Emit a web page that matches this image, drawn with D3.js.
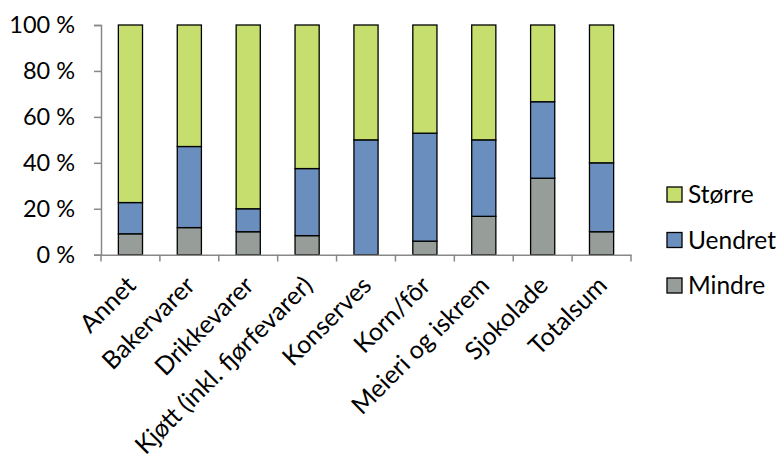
<!DOCTYPE html>
<html><head><meta charset="utf-8">
<script src="https://cdn.jsdelivr.net/npm/d3@7"></script>
<style>body{margin:0;background:#fff}svg{display:block}text{font-family:Lato,"Open Sans",sans-serif;fill:#000}</style>
</head><body>
<script>
const categories = ["Annet","Bakervarer","Drikkevarer","Kjøtt (inkl. fjørfevarer)","Konserves","Korn/fôr","Meieri og iskrem","Sjokolade","Totalsum"];
const mindre  = [9.1, 11.8, 10, 8.3, 0, 5.9, 16.7, 33.3, 10];
const uendret = [13.6, 35.3, 10, 29.2, 50, 47.0, 33.3, 33.3, 30];
const storre  = [77.3, 52.9, 80, 62.5, 50, 47.1, 50, 33.4, 60];
const seriesNames = ["Mindre","Uendret","Større"];
const colors = ["#979E99","#6A8FBF","#C6DE6E"];
const yTicks = [0,20,40,60,80,100];

const W=782,H=458;
const svg=d3.select("body").append("svg").attr("width",W).attr("height",H);
const x=d3.scaleBand().domain(categories).range([101,631]).padding(0);
const y=d3.scaleLinear().domain([0,100]).range([254.7,25]);
const data=categories.map((c,i)=>({cat:c,Mindre:mindre[i],Uendret:uendret[i],"Større":storre[i]}));
const stack=d3.stack().keys(seriesNames)(data);

// y axis
const ya=svg.append("g").attr("transform","translate(101,0)").call(d3.axisLeft(y).tickValues(yTicks).tickSize(7).tickFormat(d=>d+" %"));
ya.select(".domain").attr("stroke","#888").attr("stroke-width",1.5);
ya.selectAll(".tick line").attr("stroke","#888").attr("stroke-width",1.5);
ya.selectAll(".tick text").attr("font-size",23.5).attr("x",-26).attr("font-family","Lato, sans-serif");

// bars
const bw=x.bandwidth()*0.41;
svg.append("g").selectAll("g").data(stack).join("g").attr("fill",(d,i)=>colors[i])
 .selectAll("rect").data(d=>d).join("rect")
 .attr("x",d=>x(d.data.cat)+x.bandwidth()/2-bw/2).attr("width",bw)
 .attr("y",d=>y(d[1])).attr("height",d=>Math.max(0,y(d[0])-y(d[1])))
 .attr("stroke","#000").attr("stroke-width",1.3);

// x axis
const xa=svg.append("g").attr("transform","translate(0,254.7)").call(d3.axisBottom(x).tickSize(0).tickFormat(""));
xa.select(".domain").attr("stroke","#888").attr("stroke-width",1.5);
xa.selectAll(".tick").remove();
const edges=categories.map(c=>x(c)).concat([x.range()[1]]);
svg.append("g").selectAll("line").data(edges).join("line")
 .attr("x1",d=>d).attr("x2",d=>d).attr("y1",254.7).attr("y2",261.5).attr("stroke","#888").attr("stroke-width",1.5);
svg.append("g").selectAll("text").data(categories).join("text")
 .attr("transform",d=>`translate(${x(d)+x.bandwidth()/2+7},${287}) rotate(-45)`)
 .attr("text-anchor","end").attr("font-size",25).text(d=>d);

// legend
const leg=svg.append("g").selectAll("g").data(seriesNames.slice().reverse()).join("g")
 .attr("transform",(d,i)=>`translate(667,${194.5+i*45.5})`);
leg.append("rect").attr("x",0).attr("y",-7.5).attr("width",15).attr("height",15)
 .attr("fill",d=>colors[seriesNames.indexOf(d)]).attr("stroke","#000").attr("stroke-width",1.3);
leg.append("text").attr("x",21).attr("y",0).attr("dy","0.35em").attr("font-size",24.5).text(d=>d);
</script>
</body></html>
